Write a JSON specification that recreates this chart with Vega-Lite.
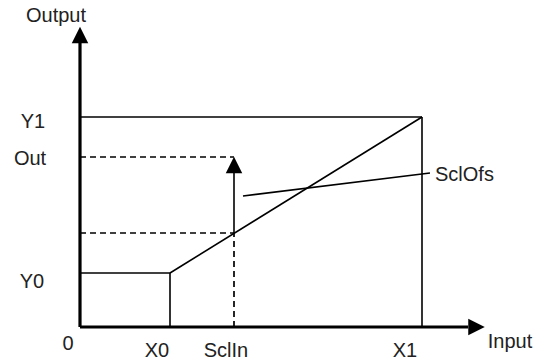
{
  "$schema": "https://vega.github.io/schema/vega-lite/v6.json",
  "width": 539,
  "height": 362,
  "autosize": "none",
  "padding": 0,
  "background": "white",
  "config": {"view": {"stroke": null}},
  "datasets": {
    "axes": [
      {"x": 0, "y": 0, "x2": 0, "y2": 284},
      {"x": 0, "y": 0, "x2": 388, "y2": 0}
    ],
    "solid": [
      {"x": 0, "y": 210, "x2": 342, "y2": 210},
      {"x": 342, "y": 0, "x2": 342, "y2": 210},
      {"x": 0, "y": 54, "x2": 90, "y2": 54},
      {"x": 90, "y": 0, "x2": 90, "y2": 54},
      {"x": 90, "y": 54, "x2": 342, "y2": 210},
      {"x": 163, "y": 131, "x2": 350, "y2": 154},
      {"x": 154, "y": 94, "x2": 154, "y2": 155}
    ],
    "dashed": [
      {"x": 0, "y": 170, "x2": 154, "y2": 170},
      {"x": 0, "y": 94, "x2": 154, "y2": 94},
      {"x": 154, "y": 0, "x2": 154, "y2": 94}
    ],
    "upArrows": [
      {"x": 0, "y": 292},
      {"x": 154, "y": 162}
    ],
    "rightArrows": [
      {"x": 396.5, "y": 0}
    ],
    "labels": [
      {"x": -24, "y": 305, "t": "Output", "a": "center"},
      {"x": -47, "y": 199, "t": "Y1", "a": "center"},
      {"x": -50, "y": 162, "t": "Out", "a": "center"},
      {"x": -48, "y": 39, "t": "Y0", "a": "center"},
      {"x": -12, "y": -23, "t": "0", "a": "center"},
      {"x": 77, "y": -30, "t": "X0", "a": "center"},
      {"x": 146, "y": -30, "t": "SclIn", "a": "center"},
      {"x": 325, "y": -30, "t": "X1", "a": "center"},
      {"x": 430, "y": -21, "t": "Input", "a": "center"},
      {"x": 355, "y": 146, "t": "SclOfs", "a": "left"}
    ]
  },
  "encoding": {
    "x": {"field": "x", "type": "quantitative", "scale": {"domain": [-80, 459], "nice": false, "zero": false}, "axis": null},
    "y": {"field": "y", "type": "quantitative", "scale": {"domain": [-35, 327], "nice": false, "zero": false}, "axis": null}
  },
  "layer": [
    {
      "data": {"name": "solid"},
      "mark": {"type": "rule", "stroke": "#000", "strokeWidth": 1.6},
      "encoding": {"x2": {"field": "x2"}, "y2": {"field": "y2"}}
    },
    {
      "data": {"name": "dashed"},
      "mark": {"type": "rule", "stroke": "#000", "strokeWidth": 1.7, "strokeDash": [6, 4]},
      "encoding": {"x2": {"field": "x2"}, "y2": {"field": "y2"}}
    },
    {
      "data": {"name": "axes"},
      "mark": {"type": "rule", "stroke": "#000", "strokeWidth": 3.2},
      "encoding": {"x2": {"field": "x2"}, "y2": {"field": "y2"}}
    },
    {
      "data": {"name": "upArrows"},
      "mark": {"type": "point", "shape": "M0,-1L-1,1L1,1Z", "filled": true, "fill": "#000", "stroke": null, "size": 272, "opacity": 1}
    },
    {
      "data": {"name": "rightArrows"},
      "mark": {"type": "point", "shape": "M1,0L-1,-1L-1,1Z", "filled": true, "fill": "#000", "stroke": null, "size": 272, "opacity": 1}
    },
    {
      "data": {"name": "labels"},
      "transform": [{"filter": "datum.a == 'center'"}],
      "mark": {"type": "text", "font": "Liberation Sans", "fontSize": 20, "color": "#222", "align": "center", "baseline": "alphabetic"},
      "encoding": {"text": {"field": "t"}}
    },
    {
      "data": {"name": "labels"},
      "transform": [{"filter": "datum.a == 'left'"}],
      "mark": {"type": "text", "font": "Liberation Sans", "fontSize": 20, "color": "#222", "align": "left", "baseline": "alphabetic"},
      "encoding": {"text": {"field": "t"}}
    }
  ]
}
